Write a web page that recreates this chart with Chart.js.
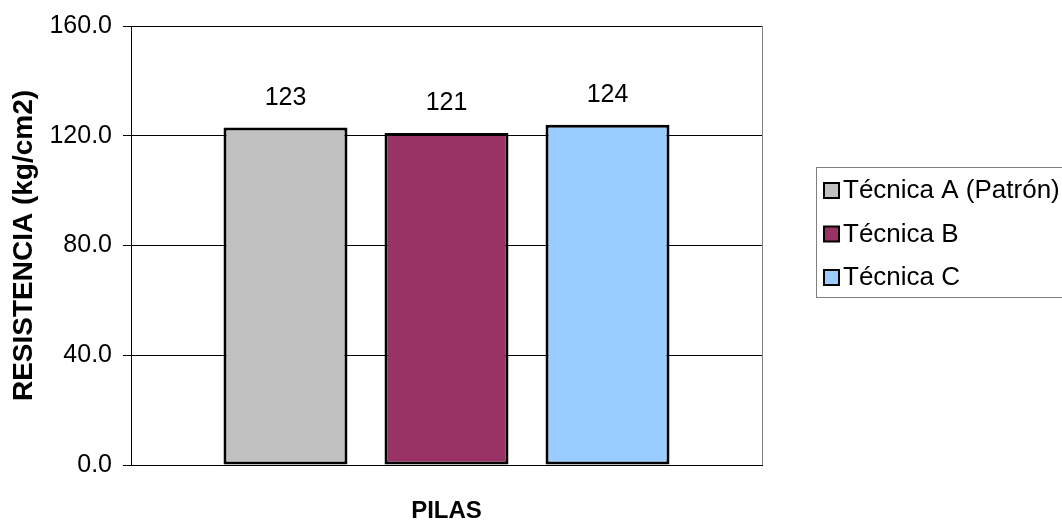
<!DOCTYPE html>
<html>
<head>
<meta charset="utf-8">
<script src="https://cdn.jsdelivr.net/npm/chart.js@4/dist/chart.umd.min.js"></script>
<style>
  html, body { margin: 0; padding: 0; background: #fff; }
  #wrap { width: 1062px; height: 527px; }
</style>
</head>
<body>
<div id="wrap"><canvas id="chart"></canvas></div>
<script>
const categories = [""];
const seriesNames = ["Técnica A (Patrón)", "Técnica B", "Técnica C"];
const seriesValues = [123, 121, 124];
const seriesColors = ["#C0C0C0", "#993366", "#99CCFF"];
const yTicks = [0, 40, 80, 120, 160];

const FONT = "Arial, 'Liberation Sans', sans-serif";

// value labels above each bar
const valueLabels = {
  id: "valueLabels",
  afterDatasetsDraw(chart) {
    const ctx = chart.ctx;
    ctx.save();
    ctx.font = "25px " + FONT;
    ctx.fillStyle = "#000";
    ctx.textAlign = "center";
    ctx.textBaseline = "alphabetic";
    chart.data.datasets.forEach((ds, i) => {
      chart.getDatasetMeta(i).data.forEach((bar, j) => {
        ctx.fillText(String(ds.data[j]), bar.x, bar.y - 23);
      });
    });
    ctx.restore();
  }
};

// right border of plot area + boxed legend
const frameAndLegend = {
  id: "frameAndLegend",
  afterDraw(chart) {
    const ctx = chart.ctx;
    const a = chart.chartArea;
    ctx.save();
    ctx.strokeStyle = "#808080";
    ctx.lineWidth = 1;
    ctx.beginPath();
    ctx.moveTo(Math.round(a.right) + 0.5, a.top);
    ctx.lineTo(Math.round(a.right) + 0.5, a.bottom);
    ctx.stroke();

    // legend
    const lx = 816, ly = 167, lh = 130;
    ctx.strokeStyle = "#808080";
    ctx.strokeRect(lx + 0.5, ly + 0.5, 300, lh);
    ctx.font = "26px " + FONT;
    ctx.textBaseline = "middle";
    ctx.textAlign = "left";
    chart.data.datasets.forEach((ds, i) => {
      const cy = 190 + i * 43.5;
      ctx.fillStyle = ds.backgroundColor;
      ctx.fillRect(824, cy - 7, 15, 15);
      ctx.strokeStyle = "#000";
      ctx.lineWidth = 2;
      ctx.strokeRect(824, cy - 7, 15, 15);
      ctx.fillStyle = "#000";
      ctx.fillText(ds.label, 843, cy + 1);
    });
    ctx.restore();
  }
};

new Chart(document.getElementById("chart"), {
  type: "bar",
  data: {
    labels: categories,
    datasets: seriesNames.map((name, i) => ({
      label: name,
      data: [seriesValues[i]],
      backgroundColor: seriesColors[i],
      borderColor: "#000",
      borderWidth: 3,
      borderSkipped: false,
      categoryPercentage: 0.7655,
      barPercentage: 0.77,
    })),
  },
  options: {
    responsive: true,
    maintainAspectRatio: false,
    animation: false,
    layout: {
      padding: { top: 25, right: 300, bottom: 0, left: 0 },
    },
    plugins: {
      legend: { display: false },
      tooltip: { enabled: false },
    },
    scales: {
      x: {
        grid: { display: false, drawTicks: false },
        border: { color: "#000", width: 1 },
        ticks: { display: false },
        title: {
          display: true,
          text: "PILAS",
          color: "#000",
          font: { family: FONT, size: 24, weight: "bold" },
          padding: { top: 0, bottom: 1 },
        },
        afterFit: (scale) => { scale.height = 62; },
      },
      y: {
        min: 0,
        max: 160,
        afterBuildTicks: (scale) => { scale.ticks = yTicks.map(v => ({ value: v })); },
        ticks: {
          color: "#000",
          font: { family: FONT, size: 25 },
          padding: 11,
          callback: (v) => Number(v).toFixed(1),
        },
        grid: { color: "#000", lineWidth: 1, tickLength: 8 },
        border: { color: "#000", width: 1 },
        title: {
          display: true,
          text: "RESISTENCIA (kg/cm2)",
          color: "#000",
          font: { family: FONT, size: 28, weight: "bold" },
          padding: { top: 7, bottom: 0 },
        },
        afterFit: (scale) => { scale.width = 131; },
      },
    },
  },
  plugins: [valueLabels, frameAndLegend],
});
</script>
</body>
</html>
